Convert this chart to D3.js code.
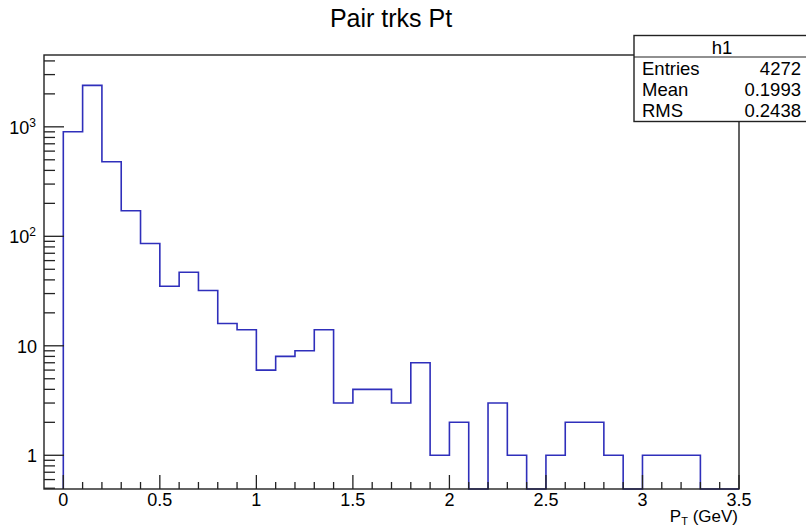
<!DOCTYPE html>
<html>
<meta charset="utf-8">
<title>Pair trks Pt</title>
<style>
  body { margin: 0; background: #fff; }
  text { font-family: "Liberation Sans", Arial, sans-serif; fill: #000; }
</style>
<body>
<div id="chart"></div>
<script src="https://d3js.org/d3.v7.min.js"></script>
<script>
// histogram h1 : bins of 0.1 GeV starting at 0
var binLow = [0, 0.1, 0.2, 0.3, 0.4, 0.5, 0.6, 0.7, 0.8, 0.9,
              1.0, 1.1, 1.2, 1.3, 1.4, 1.5, 1.6, 1.7, 1.8, 1.9,
              2.0, 2.1, 2.2, 2.3, 2.4, 2.5, 2.6, 2.7, 2.8, 2.9,
              3.0, 3.1, 3.2, 3.3, 3.4];
var counts = [902, 2390, 480, 171, 86, 35, 47, 32, 16, 14,
              6, 8, 9, 14, 3, 4, 4, 3, 7, 1,
              2, 0, 3, 1, 0, 1, 2, 2, 1, 0,
              1, 1, 1, 0, 0];
var binWidth = 0.1;
var xTicks = [0, 0.5, 1, 1.5, 2, 2.5, 3, 3.5];
var yTicks = [1, 10, 100, 1000];
var statsRows = [["Entries", "4272"], ["Mean", "0.1993"], ["RMS", "0.2438"]];

var W = 806, H = 528;
var svg = d3.select("#chart").append("svg").attr("width", W).attr("height", H);

// frame edges (note: "top" is reserved on window, so use p-prefixed names)
var pLeft = 44, pRight = 739, pTop = 55, pBottom = 489;
var x = d3.scaleLinear().domain([-0.1, 3.5]).range([pLeft, pRight]);
var y = d3.scaleLog().domain([0.492, 4530]).range([pBottom, pTop]);

// histogram outline (step line)
var pts = [[x(binLow[0]), pBottom]];
binLow.forEach(function (b, i) {
  var yy = counts[i] > 0 ? y(counts[i]) : pBottom;
  pts.push([x(b), yy]);
  pts.push([x(b + binWidth), yy]);
});
pts.push([x(binLow[binLow.length - 1] + binWidth), pBottom]);
svg.append("path")
  .attr("d", d3.line()(pts))
  .attr("fill", "none")
  .attr("stroke", "#2f2fbb")
  .attr("stroke-width", 1.6);

// frame
svg.append("rect")
  .attr("x", pLeft).attr("y", pTop)
  .attr("width", pRight - pLeft).attr("height", pBottom - pTop)
  .attr("fill", "none").attr("stroke", "#222").attr("stroke-width", 1.4);

// x ticks
var g = svg.append("g").attr("stroke", "#222").attr("stroke-width", 1.3);
d3.range(0, 36).forEach(function (i) {
  var v = i / 10;
  var major = i % 5 === 0;
  g.append("line")
    .attr("x1", x(v)).attr("x2", x(v))
    .attr("y1", pBottom).attr("y2", pBottom - (major ? 14 : 7));
});
svg.selectAll(".xlab").data(xTicks).enter().append("text")
  .attr("x", function (d) { return x(d); })
  .attr("y", 506)
  .attr("text-anchor", "middle")
  .style("font-size", "18px")
  .text(function (d) { return d; });

// y ticks (log: majors at decades, minors 2..9)
var ymin = y.domain()[0], ymax = y.domain()[1];
[0.1, 1, 10, 100, 1000].forEach(function (dec) {
  for (var k = 1; k <= 9; k++) {
    var v = dec * k;
    if (v < ymin || v > ymax) continue;
    g.append("line")
      .attr("x1", pLeft).attr("x2", pLeft + (k === 1 ? 20 : 11))
      .attr("y1", y(v)).attr("y2", y(v));
  }
});
yTicks.forEach(function (d) {
  var t = svg.append("text")
    .attr("x", 37)
    .attr("y", y(d) + 7)
    .attr("text-anchor", "end")
    .style("font-size", "18px");
  if (d >= 100) {
    t.attr("x", 36);
    t.append("tspan").text("10");
    t.append("tspan").attr("dy", -7).style("font-size", "12px").text(String(Math.log10(d)));
  } else {
    t.text(d);
  }
});

// axis title
var xt = svg.append("text")
  .attr("x", 738).attr("y", 522)
  .attr("text-anchor", "end")
  .style("font-size", "17px");
xt.append("tspan").text("P");
xt.append("tspan").attr("dy", 2.5).style("font-size", "11px").text("T");
xt.append("tspan").attr("dy", -2.5).text(" (GeV)");

// title
svg.append("text")
  .attr("x", 391).attr("y", 27)
  .attr("text-anchor", "middle")
  .style("font-size", "25px")
  .text("Pair trks Pt");

// stats box
var bx = 634, by = 35.5, bw = 176, bh = 86;
svg.append("rect")
  .attr("x", bx).attr("y", by).attr("width", bw).attr("height", bh)
  .attr("fill", "#fff").attr("stroke", "#222").attr("stroke-width", 1.4);
svg.append("line")
  .attr("x1", bx).attr("x2", bx + bw).attr("y1", 57).attr("y2", 57)
  .attr("stroke", "#222").attr("stroke-width", 1.2);
svg.append("text")
  .attr("x", bx + bw / 2).attr("y", 54)
  .attr("text-anchor", "middle")
  .style("font-size", "18.5px")
  .text("h1");
statsRows.forEach(function (r, i) {
  svg.append("text").attr("x", 642).attr("y", 75 + i * 21)
    .style("font-size", "18.5px").text(r[0]);
  svg.append("text").attr("x", 801).attr("y", 75 + i * 21)
    .attr("text-anchor", "end")
    .style("font-size", "18.5px").text(r[1]);
});
</script>
</body>
</html>
